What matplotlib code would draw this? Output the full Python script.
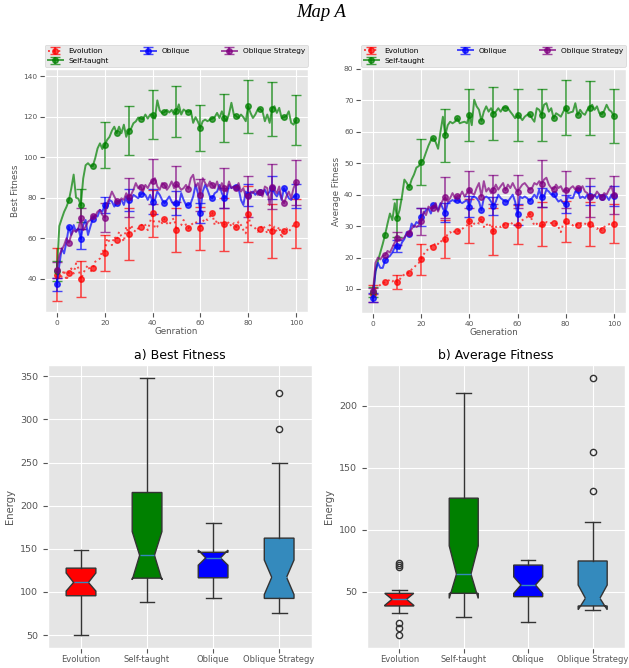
import numpy as np
import matplotlib
matplotlib.use("Agg")
import matplotlib.pyplot as plt

plt.style.use("ggplot")

# generations 0..100
gens = np.arange(101)

# ---- Best fitness (per generation) ----
best_evo = [42.1, 42.6, 41.0, 44.3, 39.3, 43.1, 45.1, 42.6, 47.6, 45.1,
            39.8, 42.6, 45.1, 46.7, 43.4, 45.1, 48.4, 49.2, 50.0, 54.2,
            52.8, 60.0, 58.3, 56.6, 60.8, 59.1, 63.2, 60.8, 58.3, 65.7,
            62.1, 66.5, 64.0, 63.2, 64.9, 65.7, 67.4, 66.5, 64.0, 68.2,
            72.2, 64.9, 65.7, 69.0, 67.4, 69.5, 67.4, 66.5, 69.0, 69.8,
            64.0, 65.7, 66.5, 69.0, 66.5, 64.9, 66.5, 67.4, 68.2, 66.5,
            64.9, 68.2, 69.8, 69.0, 70.7, 72.6, 66.5, 69.0, 66.5, 68.2,
            66.9, 66.5, 68.2, 65.7, 67.4, 65.5, 68.2, 66.5, 64.0, 62.4,
            72.0, 66.5, 65.7, 64.9, 63.2, 64.4, 66.5, 64.9, 62.4, 66.5,
            63.6, 65.7, 63.2, 65.7, 60.0, 63.6, 64.9, 63.2, 64.9, 66.5,
            67.2]
best_self = [44.0, 66.0, 69.6, 73.0, 75.5, 78.7, 84.5, 91.4, 80.0, 79.5,
             76.2, 89.5, 96.0, 97.0, 95.7, 95.6, 99.4, 104.3, 106.8, 104.0,
             106.0, 108.5, 110.0, 113.0, 115.0, 111.8, 115.0, 111.8, 116.0, 110.0,
             113.0, 114.0, 116.7, 117.6, 119.5, 119.0, 118.7, 121.0, 119.0, 121.0,
             120.9, 119.0, 128.0, 123.0, 121.7, 122.2, 123.3, 122.0, 123.3, 121.0,
             122.6, 126.0, 121.0, 123.5, 122.6, 122.3, 123.0, 116.9, 119.7, 117.4,
             114.4, 117.7, 118.5, 117.7, 118.5, 119.0, 119.7, 121.8, 119.3, 122.6,
             119.3, 117.7, 121.3, 126.8, 121.0, 120.2, 119.3, 121.0, 119.7, 117.7,
             125.1, 121.8, 119.3, 121.0, 123.5, 123.8, 122.6, 117.7, 121.0, 116.9,
             123.8, 125.1, 121.8, 124.3, 119.3, 119.7, 120.2, 122.6, 116.9, 116.0,
             118.2]
best_obl = [37.2, 46.7, 55.0, 52.5, 58.3, 65.7, 61.6, 66.5, 63.2, 64.9,
            59.6, 66.5, 69.0, 61.6, 65.7, 69.5, 71.5, 70.7, 74.0, 73.1,
            76.4, 74.8, 78.9, 78.1, 75.6, 77.3, 78.1, 78.9, 76.4, 80.6,
            78.9, 78.9, 81.4, 80.6, 79.7, 81.7, 82.2, 81.4, 78.9, 81.4,
            78.1, 78.9, 83.0, 81.4, 78.9, 77.3, 78.9, 80.6, 78.1, 76.4,
            77.3, 76.4, 82.2, 78.9, 76.4, 76.4, 77.3, 80.6, 86.3, 82.2,
            72.3, 83.0, 86.3, 83.9, 80.6, 79.7, 82.2, 83.0, 86.3, 82.2,
            79.7, 80.6, 86.3, 84.7, 85.5, 85.5, 84.7, 78.9, 76.4, 83.0,
            81.4, 82.2, 83.0, 81.4, 83.0, 82.7, 82.2, 83.9, 81.4, 83.0,
            85.0, 82.2, 80.6, 83.0, 78.9, 84.7, 82.2, 79.7, 78.9, 80.6,
            80.7]
best_strat = [44.3, 51.7, 54.2, 56.6, 60.0, 57.8, 61.6, 64.0, 63.2, 64.9,
              69.8, 64.0, 65.7, 68.2, 69.0, 71.2, 70.7, 73.1, 74.0, 71.5,
              70.2, 77.3, 79.7, 83.0, 80.6, 78.4, 78.1, 79.7, 78.9, 82.2,
              80.1, 81.4, 83.9, 87.2, 84.7, 85.5, 83.0, 86.3, 84.7, 87.2,
              88.0, 89.6, 85.5, 83.9, 87.2, 86.3, 83.9, 85.5, 88.0, 84.7,
              86.7, 85.5, 83.9, 84.7, 86.3, 84.4, 89.6, 91.3, 85.5, 87.2,
              81.4, 89.6, 87.2, 85.5, 88.0, 86.3, 84.7, 88.0, 83.9, 87.2,
              84.7, 83.0, 88.0, 84.7, 85.5, 84.7, 87.2, 83.0, 84.7, 80.6,
              80.6, 83.0, 82.2, 83.9, 81.4, 83.0, 80.6, 85.5, 84.7, 76.4,
              85.5, 83.9, 82.2, 85.5, 79.7, 77.3, 80.6, 83.0, 79.7, 84.7,
              87.5]

# error bars every 10 generations (0, 10, ..., 100)
best_evo_err = [13, 9, 9, 13, 11.5, 11, 10.5, 13, 14, 13.5, 12]
best_self_err = [5, 8, 11.3, 12, 12, 12.5, 11.5, 12, 13, 13.3, 12.3]
best_obl_err = [3, 5, 4, 5.3, 6, 6, 5, 5, 5.5, 5.5, 6]
best_strat_err = [4, 5, 7, 9.5, 11, 9, 8, 10, 10, 11, 11]

# ---- Average fitness (per generation) ----
avg_evo = [8.5, 10.2, 10.8, 11.3, 11.9, 12.1, 12.4, 13.0, 12.4, 13.0,
           12.2, 13.0, 14.0, 14.6, 15.1, 15.1, 16.2, 16.7, 17.8, 18.3,
           19.4, 21.0, 22.1, 22.7, 23.7, 23.5, 24.8, 24.3, 25.4, 24.8,
           25.9, 27.5, 28.1, 27.5, 28.6, 28.4, 28.6, 29.1, 29.7, 30.2,
           31.6, 29.7, 30.8, 31.3, 30.8, 32.4, 29.7, 30.8, 29.7, 30.8,
           28.3, 29.7, 30.2, 29.7, 30.6, 30.2, 30.8, 30.2, 31.3, 30.2,
           30.4, 31.3, 31.9, 32.4, 32.9, 34.0, 31.9, 30.2, 30.8, 29.7,
           30.8, 30.2, 31.3, 30.8, 31.0, 31.0, 30.8, 29.7, 28.1, 30.8,
           31.5, 30.8, 31.0, 30.2, 30.8, 30.2, 30.8, 31.3, 30.8, 30.2,
           30.8, 30.2, 29.7, 29.1, 29.7, 28.8, 29.7, 30.2, 30.6, 30.8,
           30.8]
avg_self = [9.0, 15.6, 18.9, 21.6, 24.3, 27.3, 30.8, 34.0, 31.9, 37.3,
            32.6, 35.1, 39.4, 44.8, 43.7, 42.3, 44.8, 46.4, 48.6, 49.1,
            50.4, 51.3, 53.5, 55.6, 57.3, 58.0, 56.7, 54.6, 60.0, 64.8,
            58.9, 62.1, 63.2, 62.7, 63.2, 64.3, 62.7, 63.0, 63.2, 62.7,
            65.4, 62.1, 70.2, 68.1, 67.0, 63.5, 66.4, 68.1, 66.4, 67.5,
            65.8, 66.4, 67.5, 66.4, 67.7, 67.7, 67.5, 66.4, 65.4, 64.3,
            65.4, 64.8, 63.7, 64.8, 65.4, 65.6, 64.3, 63.2, 67.5, 67.0,
            65.4, 68.6, 69.1, 66.4, 67.5, 64.3, 65.9, 65.4, 64.8, 66.4,
            67.7, 65.9, 66.2, 66.4, 69.1, 65.4, 67.0, 65.9, 65.4, 67.0,
            67.7, 68.6, 67.0, 68.1, 65.9, 65.6, 66.7, 68.6, 67.0, 66.4,
            65.0]
avg_obl = [7.2, 15.6, 18.3, 16.7, 16.7, 19.1, 20.0, 20.5, 21.6, 23.2,
           23.7, 22.7, 24.8, 25.9, 28.1, 27.5, 30.8, 29.7, 31.3, 30.8,
           32.9, 34.0, 35.1, 35.6, 34.0, 36.7, 36.2, 35.1, 37.3, 35.6,
           34.2, 37.3, 37.8, 38.3, 37.8, 38.3, 37.8, 37.3, 37.8, 38.3,
           36.2, 38.9, 39.4, 38.9, 37.8, 35.1, 38.9, 39.4, 38.9, 37.8,
           36.4, 37.8, 40.0, 38.9, 38.3, 37.8, 37.8, 38.9, 40.0, 37.8,
           33.7, 39.4, 38.9, 39.4, 38.9, 38.0, 38.9, 40.0, 38.9, 41.6,
           39.1, 39.4, 41.6, 41.0, 40.0, 40.2, 38.9, 37.8, 38.3, 37.3,
           37.0, 39.4, 38.9, 38.9, 41.0, 41.4, 38.9, 39.4, 38.9, 40.0,
           39.7, 38.9, 40.0, 38.9, 40.0, 39.2, 40.0, 39.4, 38.3, 40.0,
           39.6]
avg_strat = [9.4, 18.3, 20.0, 19.4, 20.5, 20.7, 22.1, 21.6, 23.2, 24.8,
             26.1, 25.4, 25.9, 26.4, 27.5, 27.7, 29.1, 30.2, 29.7, 30.2,
             31.6, 34.6, 33.5, 36.2, 35.6, 35.9, 37.3, 34.6, 36.7, 38.3,
             39.1, 37.8, 38.9, 40.5, 38.9, 39.6, 39.4, 41.0, 39.4, 40.5,
             41.6, 40.5, 40.0, 42.1, 43.7, 39.4, 44.3, 41.0, 42.1, 40.5,
             41.6, 43.2, 41.6, 42.7, 43.7, 41.4, 43.2, 42.1, 43.7, 42.1,
             41.0, 42.1, 43.2, 43.7, 42.7, 41.6, 42.1, 43.7, 43.2, 44.3,
             43.5, 44.8, 45.4, 43.2, 42.1, 41.8, 43.2, 42.1, 42.7, 41.0,
             41.6, 41.0, 42.1, 42.7, 41.6, 42.1, 41.6, 42.7, 41.0, 40.5,
             39.1, 40.0, 39.4, 41.0, 40.0, 39.4, 40.5, 40.0, 41.6, 42.7,
             40.0]

avg_evo_err = [2.7, 2.2, 5, 6.1, 7, 7.5, 6.2, 7, 6.5, 7, 6.1]
avg_self_err = [1.5, 6, 7.3, 8.4, 8.3, 8.4, 8.2, 8.3, 8.8, 8.6, 8.5]
avg_obl_err = [1.4, 2, 3, 3, 3.3, 3, 3.3, 3, 2.8, 3, 3.2]
avg_strat_err = [1, 2, 4.3, 6.6, 5.8, 4.7, 5.1, 7.4, 6, 6.2, 6]

methods = ["Evolution", "Self-taught", "Oblique", "Oblique Strategy"]
box_colors = ["red", "green", "blue", "#348ABD"]

best_med = [111, 142.5, 139.5, 117]
best_q1 = [95.6, 116, 116.4, 92.5]
best_q3 = [127.6, 215.3, 146, 162.4]
best_lo = [50, 88, 93, 76]
best_hi = [148.5, 348.5, 179.5, 249]
best_cilo = [101, 114, 131, 97]
best_cihi = [122, 170, 148.5, 137]
best_fliers = [[], [], [], [289.4, 330.7]]

avg_med = [43.9, 64.2, 55.4, 44.7]
avg_q1 = [38.5, 48.7, 46, 38.5]
avg_q3 = [48.7, 125.5, 71.5, 74.8]
avg_lo = [33, 29.3, 25.8, 35.2]
avg_hi = [51.4, 210.7, 75.3, 106]
avg_cilo = [39, 44.6, 48.7, 35.5]
avg_cihi = [48.7, 87, 62, 55.4]
avg_fliers = [[72.9, 71.5, 69.7, 25, 20.5, 15], [], [], [131.2, 162.4, 222.8]]


def full_err(err10):
    # error values only at every 10th generation
    e = np.zeros(len(gens))
    e[::10] = err10
    return e


def line_panel(ax, series, ylabel, xlabel):
    styles = [("Evolution", "red", ":"), ("Self-taught", "green", "-"),
              ("Oblique", "blue", "-"), ("Oblique Strategy", "purple", "-")]
    for (lab, col, ls), (y, e) in zip(styles, series):
        ax.errorbar(gens, y, yerr=full_err(e), errorevery=10, marker="o",
                    markevery=5, markersize=4, ls=ls, lw=1.4, color=col,
                    alpha=0.7, capsize=3.5, elinewidth=1.2, label=lab)
    ax.set_xticks([0, 20, 40, 60, 80, 100])
    ax.tick_params(labelsize=5.3, pad=2)
    ax.set_ylabel(ylabel, fontsize=6.3, labelpad=2)
    ax.set_xlabel(xlabel, fontsize=6.3, labelpad=1)
    ax.legend(loc="lower left", bbox_to_anchor=(0, 1.008, 1, 0.1), ncol=3,
              mode="expand", borderaxespad=0, fontsize=5.3, frameon=True)


def box_panel(ax, med, q1, q3, lo, hi, cilo, cihi, fliers, title):
    stats = []
    for i in range(len(methods)):
        stats.append(dict(med=med[i], q1=q1[i], q3=q3[i], whislo=lo[i],
                          whishi=hi[i], cilo=cilo[i], cihi=cihi[i],
                          fliers=fliers[i], label=methods[i]))
    bp = ax.bxp(stats, shownotches=True, patch_artist=True,
                flierprops=dict(marker="o", markersize=4.5,
                                markerfacecolor="none",
                                markeredgecolor="#333333"),
                whiskerprops=dict(color="#333333"),
                capprops=dict(color="#333333"))
    for patch, c in zip(bp["boxes"], box_colors):
        patch.set_facecolor(c)
        patch.set_edgecolor("#333333")
    ax.set_xlim(0.5, 4.5)
    ax.set_title(title, fontsize=9, pad=4)
    ax.set_ylabel("Energy", fontsize=7.2)
    ax.tick_params(axis="x", labelsize=6.0, pad=1.5)
    ax.tick_params(axis="y", labelsize=6.8)


fig = plt.figure(figsize=(6.29, 6.68), dpi=100)
fig.patch.set_facecolor("white")

ax1 = fig.add_axes([0.0715, 0.533, 0.418, 0.364])
ax2 = fig.add_axes([0.574, 0.531, 0.421, 0.366])
ax3 = fig.add_axes([0.0763, 0.030, 0.42, 0.424])
ax4 = fig.add_axes([0.5835, 0.030, 0.410, 0.424])

line_panel(ax1, [(best_evo, best_evo_err), (best_self, best_self_err),
                 (best_obl, best_obl_err), (best_strat, best_strat_err)],
           "Best Fitness", "Genration")
line_panel(ax2, [(avg_evo, avg_evo_err), (avg_self, avg_self_err),
                 (avg_obl, avg_obl_err), (avg_strat, avg_strat_err)],
           "Average Fitness", "Generation")

box_panel(ax3, best_med, best_q1, best_q3, best_lo, best_hi, best_cilo,
          best_cihi, best_fliers, "a) Best Fitness")
box_panel(ax4, avg_med, avg_q1, avg_q3, avg_lo, avg_hi, avg_cilo,
          avg_cihi, avg_fliers, "b) Average Fitness")

fig.text(0.51, 1 - 12.5 / 668, "Map A", family="Liberation Serif",
         style="italic", fontsize=13.4, ha="center", va="center")

fig.savefig("out.png", dpi=100)
